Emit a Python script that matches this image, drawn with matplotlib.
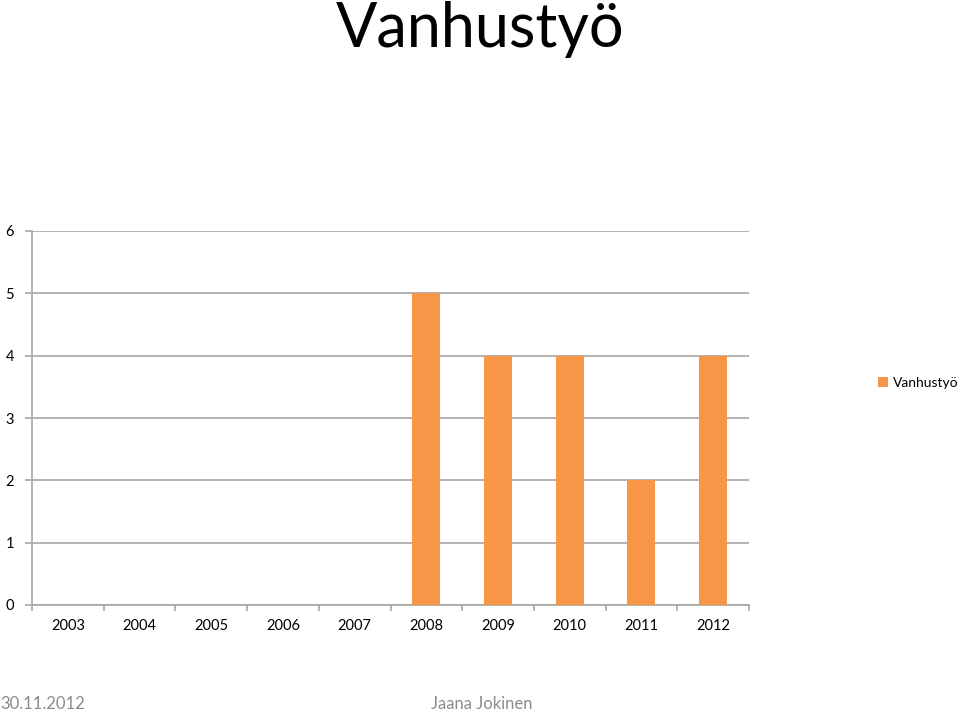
import matplotlib
matplotlib.use("Agg")
import matplotlib.pyplot as plt
import numpy as np

years = ["2003", "2004", "2005", "2006", "2007", "2008", "2009", "2010", "2011", "2012"]
values = [0, 0, 0, 0, 0, 5, 4, 4, 2, 4]
series_name = "Vanhustyö"
title = "Vanhustyö"
footer_left = "30.11.2012"
footer_center = "Jaana Jokinen"

plt.rcParams['font.family'] = ['Lato', 'DejaVu Sans']

fig = plt.figure(figsize=(9.6, 7.12), dpi=100)
ax = fig.add_axes([32/960, 1-605/712, (749-32)/960, (605-231)/712])

x = np.arange(len(years))
ax.bar(x, values, width=0.39, color="#F79646", label=series_name, zorder=3)

ax.set_xlim(-0.5, len(years) - 0.5)
ax.set_ylim(0, 6)
ax.set_yticks(range(0, 7))
ax.yaxis.grid(True, color="#A6A6A6", linewidth=1.2, zorder=0)
ax.set_axisbelow(True)

ax.set_xticks(x)
ax.set_xticklabels(years, fontsize=10.5)
ax.tick_params(axis='x', length=0, pad=10)
ax.set_xticks(np.arange(-0.5, len(years)), minor=True)
ax.tick_params(axis='x', which='minor', length=4, color="#A6A6A6", width=1.2)
ax.tick_params(axis='y', length=5, color="#A6A6A6", width=1.2, labelsize=10.5, pad=8)

for s in ['top', 'right']:
    ax.spines[s].set_visible(False)
for s in ['left', 'bottom']:
    ax.spines[s].set_color("#A6A6A6")
    ax.spines[s].set_linewidth(1.2)

leg = fig.legend(loc='center left', bbox_to_anchor=(878/960, 1-383/712), frameon=False,
                 fontsize=10, handlelength=0.7, handleheight=0.7, handletextpad=0.35,
                 borderaxespad=0, borderpad=0)

fig.text(0.5, 1-29/712, title, ha='center', va='center', fontsize=44, color='black')
fig.text(0, 1-704/712, footer_left, ha='left', va='center', fontsize=12, color='#8C8C8C')
fig.text(482/960, 1-704/712, footer_center, ha='center', va='center', fontsize=12, color='#8C8C8C')

fig.savefig("out.png", dpi=100)
